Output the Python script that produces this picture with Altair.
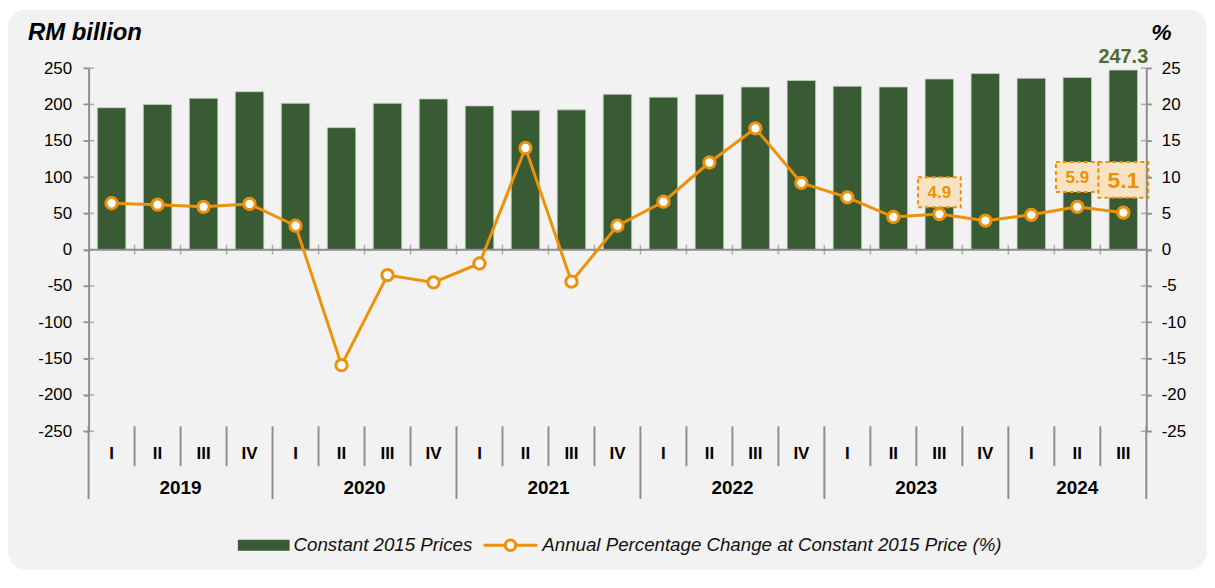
import altair as alt
import pandas as pd

# ---------------- data ----------------
quarters = ["I", "II", "III", "IV", "I", "II", "III", "IV", "I", "II", "III", "IV",
            "I", "II", "III", "IV", "I", "II", "III", "IV", "I", "II", "III"]
years = ["2019"] * 4 + ["2020"] * 4 + ["2021"] * 4 + ["2022"] * 4 + ["2023"] * 4 + ["2024"] * 3
gdp = [195.5, 200, 208.5, 217.5, 201.5, 168, 201.5, 207.5, 198, 192, 192.5, 214,
       210, 214, 224, 233, 225, 224, 235, 242.5, 236, 237, 247.3]
pct = [6.4, 6.2, 5.9, 6.3, 3.3, -15.9, -3.5, -4.5, -1.9, 14.0, -4.4, 3.3,
       6.6, 12.0, 16.7, 9.2, 7.2, 4.5, 4.9, 4.0, 4.8, 5.9, 5.1]
left_ticks = [250, 200, 150, 100, 50, 0, -50, -100, -150, -200, -250]
right_ticks = [25, 20, 15, 10, 5, 0, -5, -10, -15, -20, -25]
bar_label_quarter = 22          # 2024 III
annot_quarters = [18, 21, 22]   # 2023 III, 2024 II, 2024 III
series_names = ["Constant 2015 Prices",
                "Annual Percentage Change at Constant 2015 Price (%)"]
left_title = "RM billion"
right_title = "%"

df = pd.DataFrame({"idx": list(range(len(gdp))), "quarter": quarters, "year": years,
                   "gdp": gdp, "pct": pct})

bx = [-0.5] + [i + 0.5 for i in range(len(quarters))]
bkind = ["year"] + ["year" if (quarters[i] == "IV" or i == len(quarters) - 1) else "q"
                    for i in range(len(quarters))]
bounds = pd.DataFrame({"bx": bx, "kind": bkind})
lt = pd.DataFrame({"v": left_ticks})
rt = pd.DataFrame({"v": right_ticks})
one = pd.DataFrame({"p": [0]})

# ---------------- style ----------------
W, H = 1063, 365
PL, PT, PR, PB = 81, 59, 61, 139
FONT = "Liberation Sans"
GREEN = "#385b34"
OLIVE = "#4f6b2d"
ORANGE = "#ee9008"
AX = "#8e8e8e"
PANEL = "#f2f2f2"
BOXFILL = "#f7e3c3"

xs = alt.Scale(domain=[-0.5, 22.5], nice=False, padding=0)
ysl = alt.Scale(domain=[-250, 250], nice=False, padding=0)
ysr = alt.Scale(domain=[-25, 25], nice=False, padding=0)

LAXIS = alt.Axis(values=left_ticks, orient="left", title=None, grid=False, zindex=1,
                 domainColor=AX, domainWidth=2, tickColor=AX, tickWidth=1.5,
                 tickSize=5, labelPadding=12, labelFont=FONT, labelFontSize=17,
                 labelColor="black", labelExpr="'' + datum.value")
RAXIS = alt.Axis(values=right_ticks, orient="right", title=None, grid=False, zindex=1,
                 domainColor=AX, domainWidth=2, tickColor=AX, tickWidth=1.5,
                 tickSize=5, labelPadding=10, labelFont=FONT, labelFontSize=17,
                 labelColor="black", labelExpr="'' + datum.value")


def X(field):
    return alt.X(field, scale=xs, axis=None)


def YL(field):
    return alt.Y(field, scale=ysl, axis=LAXIS)


def YR(field):
    return alt.Y(field, scale=ysr, axis=RAXIS)


panel = alt.Chart(one).mark_rect(fill=PANEL, cornerRadius=18).encode(
    x=alt.value(-PL), x2=alt.value(W + PR), y=alt.value(-PT), y2=alt.value(H + PB))

bars = alt.Chart(df).transform_calculate(
    x0="datum.idx - 0.31", x1="datum.idx + 0.31"
).mark_bar(color=GREEN, stroke="#c9d1c6", strokeWidth=0.8).encode(
    x=X("x0:Q"), x2="x1:Q", y=YL("gdp:Q"), y2=alt.datum(0))

zero_line = alt.Chart(one).mark_rule(color=AX, strokeWidth=2).encode(
    x=alt.value(0), x2=alt.value(W), y=alt.datum(0, scale=ysl, axis=LAXIS))

zero_ticks = alt.Chart(bounds).transform_filter(
    "datum.bx > -0.5 && datum.bx < 22"
).mark_tick(orient="vertical", size=10, thickness=1.5, color=AX).encode(
    x=X("bx:Q"), y=alt.datum(0, scale=ysl, axis=LAXIS))

left_cross = alt.Chart(lt).mark_tick(orient="horizontal", size=11, thickness=1.5, color=AX).encode(
    x=alt.datum(-0.5, scale=xs, axis=None), y=YL("v:Q"))

q_sep = alt.Chart(bounds).transform_filter("datum.kind == 'q'").mark_rule(
    color=AX, strokeWidth=2).encode(x=X("bx:Q"), y=alt.value(360), y2=alt.value(400))
y_sep = alt.Chart(bounds).transform_filter("datum.kind == 'year'").mark_rule(
    color=AX, strokeWidth=2).encode(x=X("bx:Q"), y=alt.value(360), y2=alt.value(433))

q_lab = alt.Chart(df).mark_text(font=FONT, fontSize=17, fontWeight="bold", color="black",
                                baseline="middle").encode(
    x=X("idx:Q"), y=alt.value(388), text="quarter:N")
y_lab = alt.Chart(df).transform_aggregate(cx="mean(idx)", groupby=["year"]).mark_text(
    font=FONT, fontSize=19, fontWeight="bold", color="black", baseline="middle").encode(
    x=X("cx:Q"), y=alt.value(422), text="year:N")

t_left = alt.Chart(one).mark_text(text=left_title, font=FONT, fontSize=24, fontWeight="bold",
                                  fontStyle="italic", align="left", baseline="alphabetic",
                                  color="black").encode(x=alt.value(-61), y=alt.value(-28))
t_right = alt.Chart(one).mark_text(text=right_title, font=FONT, fontSize=23, fontWeight="bold",
                                   fontStyle="italic", align="left", baseline="alphabetic",
                                   color="black").encode(x=alt.value(1068), y=alt.value(-28))

bar_lab = alt.Chart(df).transform_filter(f"datum.idx == {bar_label_quarter}").mark_text(
    font=FONT, fontSize=20, fontWeight="bold", color=OLIVE, baseline="alphabetic", dy=-7).encode(
    x=X("idx:Q"), y=YL("gdp:Q"), text=alt.Text("gdp:Q", format=".1f"))

# legend (drawn by hand)
LY = 479.5
leg_sw = alt.Chart(one).mark_rect(color=GREEN).encode(
    x=alt.value(150), x2=alt.value(202), y=alt.value(LY - 5.5), y2=alt.value(LY + 5.5))
leg_t1 = alt.Chart(one).mark_text(text=series_names[0], font=FONT, fontSize=18.8, fontStyle="italic",
                                  align="left", baseline="middle", color="#111111").encode(
    x=alt.value(206), y=alt.value(LY))
leg_ln = alt.Chart(one).mark_rule(color=ORANGE, strokeWidth=3).encode(
    x=alt.value(397), x2=alt.value(451), y=alt.value(LY))
leg_pt = alt.Chart(one).mark_point(filled=True, fill="white", stroke=ORANGE, strokeWidth=3,
                                   size=110, opacity=1).encode(x=alt.value(424), y=alt.value(LY))
leg_t2 = alt.Chart(one).mark_text(text=series_names[1], font=FONT, fontSize=18.8, fontStyle="italic",
                                  align="left", baseline="middle", color="#111111").encode(
    x=alt.value(456), y=alt.value(LY))

left = alt.layer(panel, bars, zero_line, zero_ticks, left_cross, q_sep, y_sep, q_lab, y_lab,
                 t_left, t_right, bar_lab, leg_sw, leg_t1, leg_ln, leg_pt, leg_t2)

line = alt.Chart(df).mark_line(color=ORANGE, strokeWidth=3).encode(
    x=X("idx:Q"), y=YR("pct:Q"))
pts = alt.Chart(df).mark_point(filled=True, fill="white", stroke=ORANGE, strokeWidth=3,
                               size=130, opacity=1).encode(x=X("idx:Q"), y=YR("pct:Q"))
right_cross = alt.Chart(rt).mark_tick(orient="horizontal", size=11, thickness=1.5, color=AX).encode(
    x=alt.datum(22.5, scale=xs, axis=None), y=YR("v:Q"))

annot_layers = []
annot_style = [(-22, 43, 30, 17), (-30, 43, 30, 17), (-33, 50, 36, 23)]
for q, (off, bw, bh, fs) in zip(annot_quarters, annot_style):
    r = bh / bw
    shape = f"M-1,-{r:.3f}L1,-{r:.3f}L1,{r:.3f}L-1,{r:.3f}Z"
    box = alt.Chart(df).transform_filter(f"datum.idx == {q}").mark_point(
        shape=shape, size=bw * bw, filled=True, fill=BOXFILL, stroke=ORANGE, strokeWidth=2,
        strokeDash=[4, 3], opacity=1, yOffset=off).encode(x=X("idx:Q"), y=YR("pct:Q"))
    txt = alt.Chart(df).transform_filter(f"datum.idx == {q}").mark_text(
        font=FONT, fontSize=fs, fontWeight="bold", color=ORANGE, baseline="middle",
        yOffset=off + 1).encode(
        x=X("idx:Q"), y=YR("pct:Q"), text=alt.Text("pct:Q", format=".1f"))
    annot_layers += [box, txt]

right = alt.layer(line, pts, right_cross, *annot_layers)

chart = alt.layer(left, right).resolve_scale(y="independent").properties(
    width=W, height=H,
    padding={"left": PL, "top": PT, "right": PR, "bottom": PB},
    autosize=alt.AutoSizeParams(type="none"),
    background="white",
).configure_view(stroke=None)

chart.save("out.html", embed_options={"renderer": "svg", "actions": False})
